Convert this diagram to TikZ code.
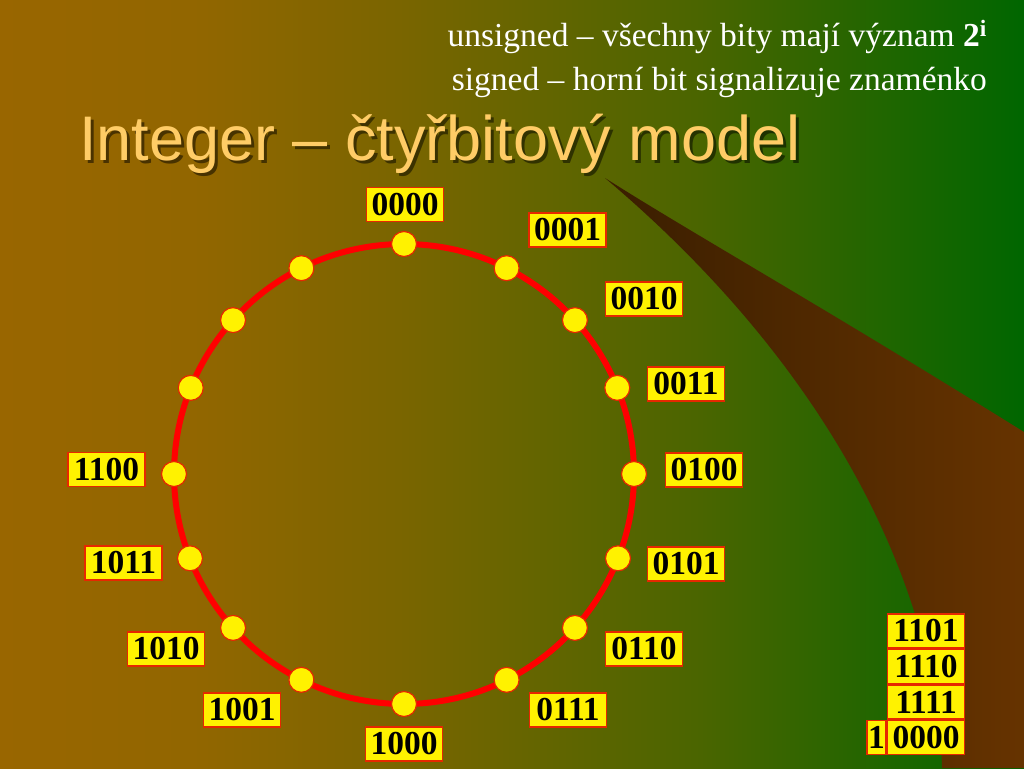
\documentclass[tikz,border=0pt]{standalone}
\usepackage{fontspec}
\setmainfont{Liberation Serif}
\newfontfamily\titlefont{Liberation Sans}
\usetikzlibrary{calc}
\definecolor{swL}{RGB}{58,30,0}
\definecolor{swR}{RGB}{102,51,0}
\definecolor{titlecol}{RGB}{255,204,102}
\definecolor{boxline}{RGB}{230,40,0}
\pgfdeclarehorizontalshading{bgshade}{100bp}{rgb(0bp)=(0.6,0.4,0); rgb(25bp)=(0.6,0.4,0); rgb(34.8bp)=(0.57,0.4,0); rgb(44.5bp)=(0.478,0.396,0); rgb(59.2bp)=(0.29,0.396,0); rgb(75bp)=(0,0.4,0); rgb(100bp)=(0,0.4,0)}
\tikzset{
  lbl/.style={draw=boxline, line width=1.5pt, fill=yellow, inner sep=0pt,
    minimum width=77pt, minimum height=34pt, text=black,
    font=\fontsize{33.5}{36}\selectfont\bfseries},
  one/.style={lbl, minimum width=19pt},
  dot/.style={circle, draw=boxline, line width=1.2pt, fill=yellow, inner sep=0pt, minimum size=25pt},
  note/.style={text=white, inner sep=0pt, anchor=base east, font=\fontsize{33.5}{38}\selectfont},
  ttl/.style={anchor=base west, inner sep=0pt, font=\titlefont\fontsize{63}{70}\selectfont}
}
\begin{document}
\begin{tikzpicture}[x=1pt,y=-1pt]
\useasboundingbox (0,0) rectangle (1024,768);
\shade[shading=bgshade] (0,0) rectangle (1024,768);
% swoosh
\shade[left color=swL, right color=swR]
  (605,178) .. controls (690,232) and (820,305) .. (1024,432)
  -- (1024,768) -- (942,768)
  .. controls (938,610) and (850,385) .. (605,178) -- cycle;
% notes
\node[note] (n1) at (987,46) {unsigned – všechny bity mají význam \textbf{2\textsuperscript{i}}};
\node[note] (n2) at (987,90) {signed – horní bit signalizuje znaménko};
% title
\node[ttl, text=black, opacity=0.5] (tshadow) at (82,163) {Integer – čtyřbitový model};
\node[ttl, text=titlecol] (title) at (79,160) {Integer – čtyřbitový model};
% ring
\coordinate (c) at (404,474);
\draw[red, line width=6pt] (c) circle [radius=230pt];
\foreach \a [count=\i] in {0,26.5,48,68,90,111.5,132,153.5,180,206.5,228,248.5,270,292,312,333.5}
  \node[dot] (d\i) at ($(c)+({230*sin(\a)},{-230*cos(\a)})$) {};
% labels
\node[lbl] (l0000) at (405,204.5) {0000};
\node[lbl] (l0001) at (567.5,230) {0001};
\node[lbl] (l0010) at (644,299) {0010};
\node[lbl] (l0011) at (686,384) {0011};
\node[lbl] (l0100) at (704,470) {0100};
\node[lbl] (l0101) at (686,564) {0101};
\node[lbl] (l0110) at (644,649) {0110};
\node[lbl] (l0111) at (568,710) {0111};
\node[lbl] (l1000) at (404,744) {1000};
\node[lbl] (l1001) at (242,710) {1001};
\node[lbl] (l1010) at (166,649) {1010};
\node[lbl] (l1011) at (123.5,563) {1011};
\node[lbl] (l1100) at (106.5,469.5) {1100};
% stack
\node[lbl] (s1101) at (926,631) {1101};
\node[lbl, anchor=north] (s1110) at (s1101.south) {1110};
\node[lbl, anchor=north] (s1111) at (s1110.south) {1111};
\node[lbl, anchor=north] (s0000) at (s1111.south) {0000};
\node[one, anchor=east] (s1) at (s0000.west) {1};
\end{tikzpicture}
\end{document}
